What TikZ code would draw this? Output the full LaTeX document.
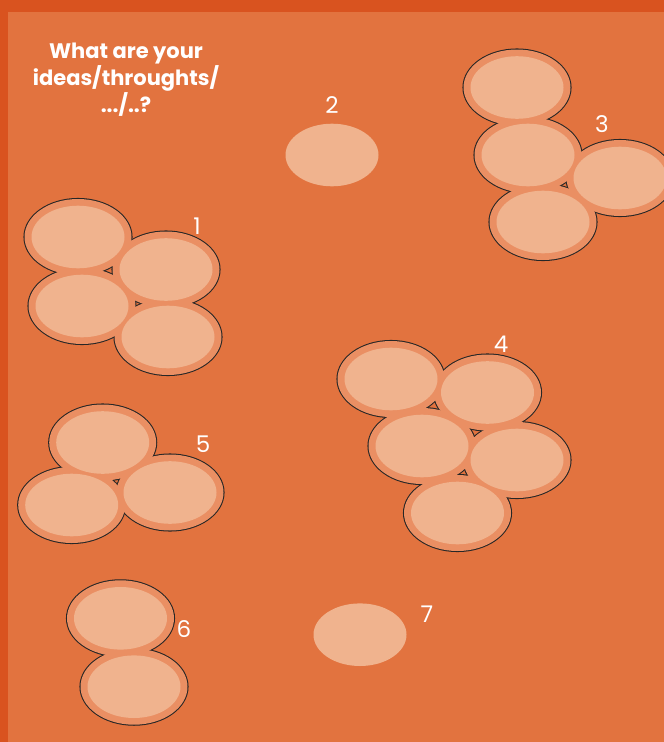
\documentclass[tikz,border=0pt]{standalone}
\usepackage{fontspec}
\setmainfont{Poppins}
\usepackage{tikz}
\definecolor{edgeorange}{HTML}{D9531F}
\definecolor{paperorange}{HTML}{E2733F}
\definecolor{ringorange}{HTML}{EA8F63}
\definecolor{ideapeach}{HTML}{F0B38E}
\tikzset{
  rim/.style={draw=black!85, line width=2.1pt},
  ring/.style={fill=ringorange},
  idea/.style={fill=ideapeach},
  qtext/.style={align=center, text=white, font=\fontsize{21}{27}\selectfont\bfseries, inner sep=0pt},
  num/.style={text=white, font=\fontsize{23}{23}\selectfont, inner sep=0pt}
}
\begin{document}
\begin{tikzpicture}[x=1pt, y=-1pt]
\useasboundingbox (0,0) rectangle (664,742);
\fill[edgeorange] (0,0) rectangle (664,742);
\fill[paperorange] (8,12) rectangle (664,742);
% idea groups
\coordinate (a1) at (78,237);   \coordinate (a2) at (166,269.5);
\coordinate (a3) at (82,306);   \coordinate (a4) at (168,337);
\coordinate (c1) at (517,87.5); \coordinate (c2) at (528,155);
\coordinate (c3) at (620,178);  \coordinate (c4) at (543,222);
\coordinate (d1) at (391,379);  \coordinate (d2) at (487.5,392.5);
\coordinate (d3) at (422,446);  \coordinate (d4) at (517,460);
\coordinate (d5) at (457.5,513);
\coordinate (e1) at (102.7,442.5); \coordinate (e2) at (170,492.5);
\coordinate (e3) at (71.7,505);
\coordinate (f1) at (120.5,618.3); \coordinate (f2) at (134,686.7);
\coordinate (b1) at (332,155);  \coordinate (g1) at (360,634.7);
\foreach \c in {a1,a2,a3,a4,c1,c2,c3,c4,d1,d2,d3,d4,d5,e1,e2,e3,f1,f2}
  \draw[rim] (\c) ellipse [x radius=53.5pt, y radius=38pt];
\foreach \c in {a1,a2,a3,a4,c1,c2,c3,c4,d1,d2,d3,d4,d5,e1,e2,e3,f1,f2}
  \fill[ring] (\c) ellipse [x radius=53.5pt, y radius=38pt];
\foreach \c in {a1,a2,a3,a4,b1,c1,c2,c3,c4,d1,d2,d3,d4,d5,e1,e2,e3,f1,f2,g1}
  \fill[idea] (\c) ellipse [x radius=46.5pt, y radius=31.3pt];
% labels
\node[qtext] (question) at (126,80) {What are your\\ideas/throughts/\\.../..?};
\node[num] (n1) at (197,226) {1};
\node[num] (n2) at (332,105) {2};
\node[num] (n3) at (602,124) {3};
\node[num] (n4) at (501,344) {4};
\node[num] (n5) at (203,444) {5};
\node[num] (n6) at (184,629) {6};
\node[num] (n7) at (427,614) {7};
\end{tikzpicture}
\end{document}
